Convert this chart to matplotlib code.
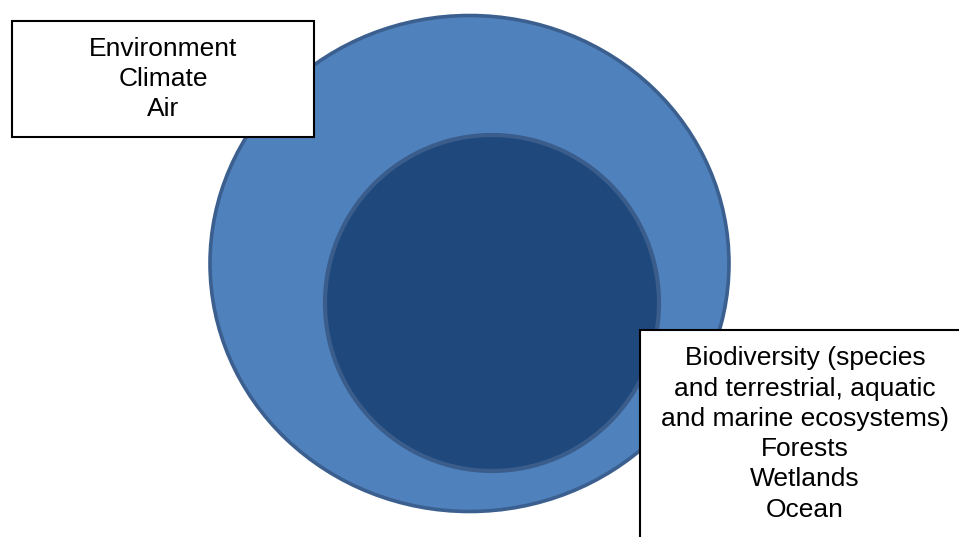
import matplotlib.pyplot as plt
from matplotlib.patches import Ellipse, Rectangle

# text in the two boxes
outer_lines = ['Environment', 'Climate', 'Air']
inner_lines = ['Biodiversity (species', 'and terrestrial, aquatic',
               'and marine ecosystems)', 'Forests', 'Wetlands', 'Ocean']

plt.rcParams['font.family'] = ['Liberation Sans', 'DejaVu Sans']

fig = plt.figure(figsize=(9.59, 5.37), dpi=100)
ax = fig.add_axes([0, 0, 1, 1])
ax.set_xlim(0, 959)
ax.set_ylim(537, 0)
ax.axis('off')

# outer circle (environment)
ax.add_patch(Ellipse((469.5, 263.5), 519, 496, facecolor='#4f81bd',
                     edgecolor='#3b5f8e', lw=2.6, zorder=1))
# inner circle (biodiversity)
ax.add_patch(Ellipse((492, 303), 334, 336, facecolor='#1f497d',
                     edgecolor='#3a5d8c', lw=3, zorder=2))

# labels
ax.add_patch(Rectangle((12, 21), 302, 116, facecolor='white',
                       edgecolor='black', lw=1.5, zorder=3))
ax.text(163, 79, '\n'.join(outer_lines), ha='center', va='center',
        fontsize=19, linespacing=1.33, zorder=4)

ax.add_patch(Rectangle((640, 330), 340, 230, facecolor='white',
                       edgecolor='black', lw=1.5, zorder=3))
ax.text(805, 434, '\n'.join(inner_lines), ha='center', va='center',
        fontsize=19, linespacing=1.33, zorder=4)

fig.savefig('out.png', dpi=100)
